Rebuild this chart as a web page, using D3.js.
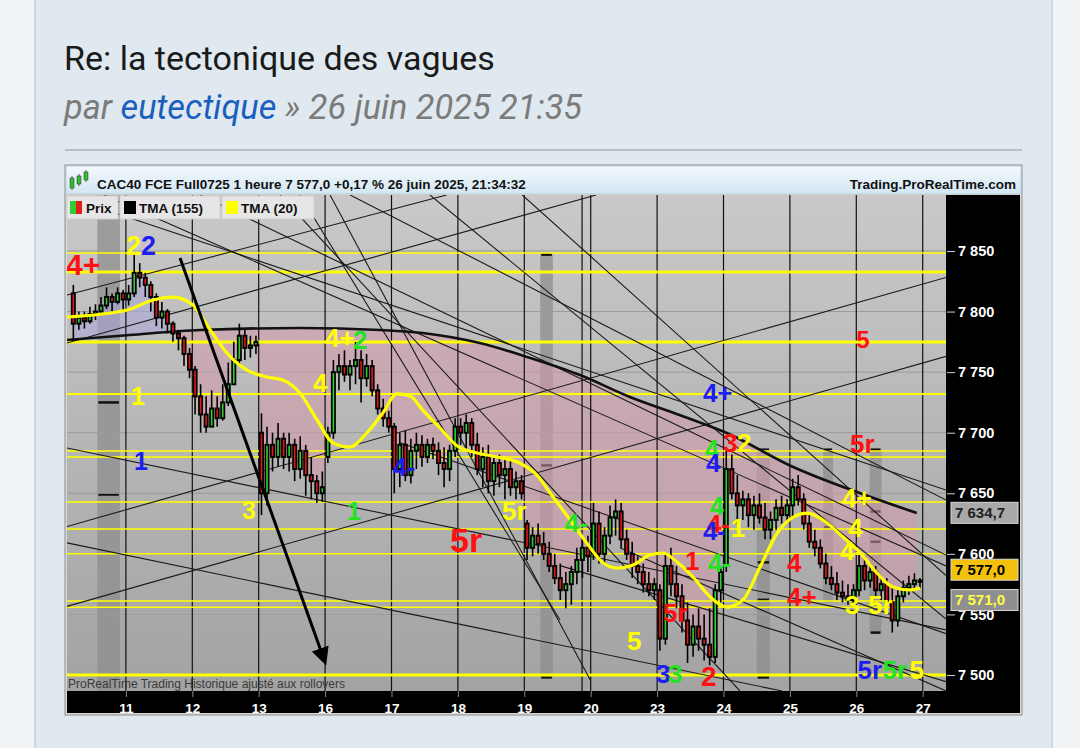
<!DOCTYPE html>
<html><head><meta charset="utf-8">
<script src="https://cdn.jsdelivr.net/npm/d3@7"></script>
<style>
body{margin:0;background:#f1f4f6;}
svg{display:block;}
</style></head>
<body><svg id="c" width="1080" height="748"></svg>
<script>
// ---------------- DATA ----------------
const dayLabels = ["11","12","13","16","17","18","19","20","23","24","25","26","27"];
const yTicks = [7500,7550,7600,7650,7700,7750,7800,7850];
// hourly candles per session [open, high, low, close]
const session10 = [[7815,7822,7776,7790],[7790,7800,7785,7795],[7795,7800,7786,7792],[7792,7804,7790,7798],[7798,7806,7793,7800],[7800,7812,7797,7805],[7805,7820,7802,7812],[7812,7815,7800,7808],[7808,7820,7806,7815],[7815,7818,7800,7810]];
const session11 = [[7810,7822,7805,7815],[7815,7847,7812,7832],[7832,7840,7820,7828],[7828,7832,7812,7822],[7822,7825,7800,7812],[7812,7815,7788,7795],[7795,7808,7786,7800],[7800,7802,7782,7790],[7790,7792,7775,7782],[7782,7785,7768,7778],[7778,7780,7755,7765],[7765,7770,7745,7752]];
const session12 = [[7752,7755,7715,7730],[7730,7740,7700,7715],[7715,7730,7700,7705],[7705,7735,7705,7720],[7720,7730,7705,7712],[7712,7740,7710,7725],[7725,7758,7722,7740],[7740,7775,7740,7760],[7760,7790,7755,7780],[7780,7785,7760,7770],[7770,7780,7762,7772],[7772,7780,7765,7775]];
const session13 = [[7700,7716,7632,7650],[7650,7705,7640,7690],[7690,7700,7668,7680],[7680,7708,7672,7695],[7695,7700,7670,7680],[7680,7700,7668,7690],[7690,7695,7660,7670],[7670,7697,7662,7685],[7685,7690,7648,7665],[7665,7680,7645,7660],[7660,7665,7642,7650],[7650,7668,7643,7655]];
const session16 = [[7680,7705,7675,7700],[7700,7760,7695,7750],[7750,7765,7735,7755],[7755,7768,7742,7748],[7748,7760,7735,7755],[7755,7775,7740,7760],[7760,7768,7725,7745],[7745,7765,7738,7755],[7755,7760,7730,7735],[7735,7740,7715,7720],[7720,7728,7705,7712],[7712,7718,7700,7705]];
const session17 = [[7705,7708,7650,7670],[7670,7700,7655,7690],[7690,7702,7660,7665],[7665,7695,7658,7685],[7685,7700,7670,7690],[7690,7698,7672,7680],[7680,7695,7675,7690],[7690,7696,7678,7685],[7685,7692,7665,7675],[7675,7688,7655,7670],[7670,7690,7660,7685],[7685,7712,7680,7705]];
const session18 = [[7705,7712,7690,7700],[7700,7715,7685,7708],[7708,7712,7680,7690],[7690,7700,7665,7670],[7670,7688,7655,7680],[7680,7690,7650,7660],[7660,7680,7648,7675],[7675,7682,7655,7665],[7665,7680,7645,7670],[7670,7678,7648,7655],[7655,7668,7645,7660],[7660,7665,7645,7650]];
const session19 = [[7625,7628,7595,7605],[7605,7622,7598,7615],[7615,7625,7600,7608],[7608,7618,7595,7600],[7600,7610,7585,7590],[7590,7600,7575,7580],[7580,7592,7562,7570],[7570,7585,7555,7575],[7575,7590,7558,7585],[7585,7605,7575,7595],[7595,7612,7580,7605],[7605,7615,7585,7598]];
const session20 = [[7600,7642,7595,7625],[7625,7635,7592,7600],[7600,7622,7592,7615],[7615,7640,7608,7630],[7630,7645,7615,7635],[7635,7642,7605,7612],[7612,7620,7595,7600],[7600,7610,7580,7590],[7590,7598,7575,7585],[7585,7592,7568,7575],[7575,7585,7565,7570],[7570,7580,7562,7575]];
const session23 = [[7570,7575,7520,7530],[7530,7600,7525,7590],[7590,7605,7565,7575],[7575,7590,7555,7565],[7565,7575,7535,7545],[7545,7560,7510,7525],[7525,7550,7515,7540],[7540,7555,7520,7530],[7530,7550,7512,7525],[7525,7555,7508,7515],[7515,7575,7510,7570],[7570,7590,7560,7585]];
const session24 = [[7590,7685,7585,7670],[7670,7682,7645,7650],[7650,7665,7625,7640],[7640,7652,7628,7645],[7645,7650,7622,7632],[7632,7648,7620,7640],[7640,7650,7625,7630],[7630,7642,7612,7620],[7620,7635,7612,7628],[7628,7645,7620,7638],[7638,7648,7625,7632],[7632,7645,7625,7640]];
const session25 = [[7640,7662,7630,7655],[7655,7665,7640,7645],[7645,7650,7620,7625],[7625,7632,7605,7610],[7610,7620,7598,7605],[7605,7612,7588,7592],[7592,7600,7575,7580],[7580,7590,7570,7575],[7575,7585,7562,7568],[7568,7578,7560,7565],[7565,7575,7558,7562],[7562,7575,7558,7570]];
const session26 = [[7570,7600,7565,7590],[7590,7598,7570,7578],[7578,7592,7572,7585],[7585,7590,7565,7570],[7570,7582,7562,7575],[7575,7580,7555,7560],[7560,7572,7535,7545],[7545,7570,7540,7565],[7565,7578,7560,7572],[7572,7582,7566,7575],[7575,7584,7570,7578],[7578,7580,7572,7577]];
const sessions = [session10,session11,session12,session13,session16,session17,session18,session19,session20,session23,session24,session25,session26];
// TMA (155) [session position, value]
const tma155 = [[0.11,7776.5],[1.06,7780.7],[2.12,7784.8],[3.62,7786.4],[4.83,7784.8],[5.47,7782.3],[6.33,7774],[7.09,7761.7],[7.84,7747.6],[8.59,7729.5],[9.34,7714.6],[10.05,7699.8],[11.05,7671.7],[12.05,7650.2],[12.91,7633.7]];
// TMA (20)
const tma20 = [[0.11,7795.5],[1.02,7801.3],[1.41,7809.6],[1.71,7812],[2.01,7805.4],[2.27,7784.8],[2.52,7765.8],[2.82,7751.8],[3.12,7746],[3.36,7743.5],[3.62,7732.8],[3.88,7710.5],[4.12,7691.5],[4.37,7688.2],[4.63,7699.8],[4.87,7716.3],[5.08,7732],[5.28,7730.3],[5.47,7718.7],[5.73,7703.9],[5.99,7689],[6.29,7683.3],[6.59,7680],[6.93,7675],[7.19,7665],[7.39,7650.2],[7.69,7628],[7.94,7609],[8.19,7592.4],[8.40,7588.3],[8.64,7590.8],[8.89,7599],[9.09,7600.7],[9.30,7593.3],[9.54,7580.9],[9.80,7564.4],[10.05,7556.1],[10.29,7561.9],[10.55,7589.1],[10.81,7617.2],[11.05,7630.4],[11.26,7633.7],[11.56,7625.5],[11.80,7613.9],[12.06,7600.7],[12.31,7584.2],[12.55,7572.6],[12.81,7570.2],[12.96,7571.8]];
// horizontal yellow levels [value, weight]
const levels = [[7848.3,1.5],[7832.7,3],[7774.9,3],[7732,2],[7685,1.5],[7680,1.5],[7642.8,1.5],[7620.5,1.5],[7600,1.5],[7561,1.5],[7556,1.5],[7500,3]];
// trend lines [pos1, val1, pos2, val2]
const trendLines = [
 [0.113,7813.7,5.83,7896.2],[0.113,7774.1,8.08,7896.2],[0.113,7622.6,13.352,7828.2],[0.113,7556.6,13.352,7763.0],
 [0.113,7687.4,13.352,7537.2],[0.113,7609.1,10.881,7486.8],[0.113,7894.6,13.352,7652.7],[0.670,7896.2,13.352,7590.0],
 [3.623,7896.2,7.538,7545.4],[4.075,7896.2,7.994,7495.9],[3.322,7896.2,10.248,7486.8],[5.580,7896.2,13.352,7546.2],
 [2.116,7896.2,13.352,7599.0],[4.377,7896.2,13.352,7644.4],
 [5.13,7691.7,13.352,7534.1],[7.54,7590.3,13.352,7494.5],[6.97,7896.2,13.352,7582.0],[8.44,7605.0,13.352,7486.8]
];
const arrowLine = [1.815,7844.2,3.998,7510.7];
// grey range bands [pos0,pos1,top,bottom,[marks]]
const bands = [[0.57,0.91,7896,7487,[7725,7649]],[7.24,7.43,7847,7498,[7847,7673,7498]],[10.5,10.7,7686,7498,[7686,7593,7562,7498]],[11.5,11.65,7686,7560,[7686,7643,7622]],[12.2,12.38,7686,7535,[7686,7635,7610,7535]]];
const extraVLines = [7.87];
// wave labels [text, colour, pos, value, size]
const R="#ff1111",B="#1e1ef0",Y="#ffff00",G="#22e322";
const waveLabels = [
 ["4+",R,0.098,7830.2,30],["2",Y,1.001,7846.7,27],["2",B,1.227,7846.7,27],["1",Y,1.077,7722.9,25],["1",B,1.122,7669.2,25],
 ["4",Y,3.818,7733.6,26],["4+",Y,3.999,7770.8,26],["2",G,4.42,7769.1,26],["3",Y,2.748,7628.8,25],["1",G,4.33,7627.9,25],
 ["4-",B,5.023,7664.3,25],["5r",Y,6.664,7627.9,26],["5r",R,5.881,7601.5,34],["4-",G,7.611,7618.0,26],["5",Y,8.545,7520.6,26],
 ["3",B,8.982,7493.4,26],["3",G,9.163,7493.4,26],["5r",R,9.087,7543.7,26],["1",R,9.419,7586.6,26],["2",R,9.66,7490.9,28],
 ["4+",B,9.69,7725.4,26],["4",G,9.72,7679.1,25],["3",R,9.992,7684.1,26],["2",Y,10.203,7684.1,26],["4",B,9.735,7667.6,26],
 ["4",G,9.795,7632.1,25],["4-",R,9.75,7617.2,26],["4-",B,9.69,7611.4,26],["1",Y,10.111,7613.9,26],["4-",G,9.765,7585.0,26],
 ["4",R,10.956,7585.0,26],["4+",R,10.956,7556.9,26],["3",Y,11.83,7550.3,26],["5r",Y,12.176,7550.3,26],["5",R,12.0,7770.0,24],
 ["5r",R,11.905,7683.3,26],["4+",Y,11.786,7638.7,26],["4",Y,11.877,7613.9,26],["4-",Y,11.756,7594.9,26],
 ["5r",B,12.018,7496.7,26],["5r",G,12.395,7496.7,26],["5",Y,12.801,7496.7,26]
];
// last-value boxes [text, value, fill, text colour, vertical shift]
const priceBoxes = [["7 634,7",7634.7,"#a9a9a9","#222",1],["7 577,0",7577.0,"#f4c20d","#000",-12],["7 571,0",7571.0,"#8f8f8f","#ffff44",11]];

// ---------------- DRAW ----------------
const svg = d3.select("#c");
const F = "'Liberation Sans', Arial, sans-serif";
const P = {l:67, r:946, t:195, b:691};
const x = d3.scaleLinear().domain([0,13]).range([59.5,922.7]);
const y = d3.scaleLinear().domain([7500,7850]).range([675,251]);

// page
svg.append("rect").attr("width",1080).attr("height",748).attr("fill","#f1f4f6");
svg.append("rect").attr("x",35).attr("y",-2).attr("width",1017).attr("height",760).attr("fill","#dfe9ef").attr("stroke","#c3d0d8").attr("stroke-width",1.5);
svg.append("text").attr("x",64).attr("y",70).attr("font-family","Roboto, sans-serif").attr("font-size",34).attr("fill","#1a1a1a").text("Re: la tectonique des vagues");
const sub = svg.append("text").attr("x",64).attr("y",119).attr("font-family","Roboto, sans-serif").attr("font-size",34.3).attr("font-style","italic").attr("fill","#7b7b7b");
sub.append("tspan").text("par ");
sub.append("tspan").attr("fill","#1a5fbf").text("eutectique");
sub.append("tspan").text(" » 26 juin 2025 21:35");
svg.append("line").attr("x1",65).attr("x2",1022).attr("y1",150).attr("y2",150).attr("stroke","#b4c0c8").attr("stroke-width",2);

// chart frame
const defs = svg.append("defs");
const hg = defs.append("linearGradient").attr("id","hg").attr("x1",0).attr("x2",0).attr("y1",0).attr("y2",1);
hg.append("stop").attr("offset",0).attr("stop-color","#f3f9fd");
hg.append("stop").attr("offset",1).attr("stop-color","#d3e6f2");
const pg = defs.append("linearGradient").attr("id","pg").attr("x1",0).attr("x2",0).attr("y1",0).attr("y2",1);
pg.append("stop").attr("offset",0).attr("stop-color","#c9c9c9");
pg.append("stop").attr("offset",1).attr("stop-color","#a3a3a3");
svg.append("rect").attr("x",65).attr("y",165).attr("width",957).attr("height",550).attr("fill","#d8d8d8").attr("stroke","#8c8c8c");
svg.append("rect").attr("x",66).attr("y",166).attr("width",955).attr("height",28).attr("fill","url(#hg)").attr("stroke","#b9cbd6");
// icon
[[72,178,10,"#2fbf2f"],[79,176,8,"#2fbf2f"],[86,172,8,"#2fbf2f"]].forEach(d=>{
  svg.append("line").attr("x1",d[0]).attr("x2",d[0]).attr("y1",d[1]-2).attr("y2",d[1]+d[2]+2).attr("stroke","#555");
  svg.append("rect").attr("x",d[0]-2).attr("y",d[1]).attr("width",4).attr("height",d[2]).attr("fill",d[3]).attr("stroke","#333").attr("stroke-width",0.5);
});
svg.append("text").attr("x",97).attr("y",189).attr("font-family",F).attr("font-weight","bold").attr("font-size",13.5).attr("fill","#111").text("CAC40 FCE Full0725 1 heure 7 577,0 +0,17 % 26 juin 2025, 21:34:32");
svg.append("text").attr("x",1016).attr("y",189).attr("text-anchor","end").attr("font-family",F).attr("font-weight","bold").attr("font-size",13.5).attr("fill","#111").text("Trading.ProRealTime.com");

// plot background
svg.append("rect").attr("x",P.l).attr("y",P.t).attr("width",P.r-P.l).attr("height",P.b-P.t).attr("fill","url(#pg)");
defs.append("clipPath").attr("id","pc").append("rect").attr("x",P.l).attr("y",P.t).attr("width",P.r-P.l).attr("height",P.b-P.t);
const g = svg.append("g").attr("clip-path","url(#pc)");

// bands
bands.forEach(b=>{
  g.append("rect").attr("x",x(b[0])).attr("width",x(b[1])-x(b[0])).attr("y",y(b[2])).attr("height",y(b[3])-y(b[2])).attr("fill","#8e8e8e").attr("opacity",0.75);
  b[4].forEach(m=>g.append("line").attr("x1",x(b[0])+1).attr("x2",x(b[1])-1).attr("y1",y(m)).attr("y2",y(m)).attr("stroke","#111").attr("stroke-width",2.5));
});
// grid
yTicks.forEach(v=>g.append("line").attr("x1",P.l).attr("x2",P.r).attr("y1",y(v)).attr("y2",y(v)).attr("stroke","#9b9b9b").attr("stroke-width",1));

// bars
const bars = [];
sessions.forEach((s,d)=>{
  const off = 12 - s.length;
  s.forEach((c,j)=>bars.push({p:d+(j+off+0.5)/12,o:c[0],h:c[1],l:c[2],c:c[3]}));
});
const tmaLine = d3.line().x(d=>x(d[0])).y(d=>y(d[1])).curve(d3.curveMonotoneX);
// fills between price and TMA155
const cpBelow = defs.append("clipPath").attr("id","below");
cpBelow.append("path").attr("d",d3.area().x(d=>x(d[0])).y0(d=>y(d[1])).y1(P.b).curve(d3.curveMonotoneX)(tma155));
const cpAbove = defs.append("clipPath").attr("id","above");
cpAbove.append("path").attr("d",d3.area().x(d=>x(d[0])).y0(P.t).y1(d=>y(d[1])).curve(d3.curveMonotoneX)(tma155));
g.append("path").attr("clip-path","url(#below)").attr("fill","#d49aaa").attr("opacity",0.55)
  .attr("d",d3.area().x(d=>x(d.p)).y0(P.t).y1(d=>y(d.c))(bars));
g.append("path").attr("clip-path","url(#above)").attr("fill","#a9a6d8").attr("opacity",0.55)
  .attr("d",d3.area().x(d=>x(d.p)).y0(d=>y(d.c)).y1(P.b)(bars));

// vertical session lines
d3.range(1,14).concat(extraVLines).forEach(p=>g.append("line").attr("x1",x(p)).attr("x2",x(p)).attr("y1",P.t).attr("y2",P.b).attr("stroke","#111").attr("stroke-width",1.2));

// yellow levels
levels.forEach(l=>g.append("line").attr("x1",P.l).attr("x2",P.r).attr("y1",y(l[0])).attr("y2",y(l[0])).attr("stroke","#ffff00").attr("stroke-width",l[1]));

// trend lines
trendLines.forEach(t=>g.append("line").attr("x1",x(t[0])).attr("y1",y(t[1])).attr("x2",x(t[2])).attr("y2",y(t[3])).attr("stroke","#1a1a1a").attr("stroke-width",1.1));

// TMA155
g.append("path").attr("d",tmaLine(tma155)).attr("fill","none").attr("stroke","#111").attr("stroke-width",2.6);

// candles
const bw = 5;
bars.forEach(b=>{
  const cx = x(b.p);
  g.append("line").attr("x1",cx).attr("x2",cx).attr("y1",y(b.h)).attr("y2",y(b.l)).attr("stroke","#000").attr("stroke-width",1.6);
  const top = y(Math.max(b.o,b.c)), bot = y(Math.min(b.o,b.c));
  g.append("rect").attr("x",cx-bw/2).attr("width",bw).attr("y",top-1).attr("height",Math.max(2,bot-top+2)).attr("fill","#000");
  if (bot-top>2) g.append("rect").attr("x",cx-0.8).attr("width",1.6).attr("y",top+1).attr("height",bot-top-2).attr("fill",b.c>=b.o?"#2fd02f":"#e01818");
});

// TMA20
g.append("path").attr("d",d3.line().x(d=>x(d[0])).y(d=>y(d[1])).curve(d3.curveMonotoneX)(tma20)).attr("fill","none").attr("stroke","#ffff00").attr("stroke-width",3.2);

// arrow
defs.append("marker").attr("id","ah").attr("viewBox","0 0 10 10").attr("refX",8).attr("refY",5).attr("markerWidth",6).attr("markerHeight",6).attr("orient","auto")
  .append("path").attr("d","M0,0 L10,5 L0,10 z").attr("fill","#000");
g.append("line").attr("x1",x(arrowLine[0])).attr("y1",y(arrowLine[1])).attr("x2",x(arrowLine[2])).attr("y2",y(arrowLine[3])).attr("stroke","#000").attr("stroke-width",3).attr("marker-end","url(#ah)");

// wave labels
waveLabels.forEach(w=>g.append("text").attr("x",x(w[2])).attr("y",y(w[3])).attr("font-family",F).attr("font-weight","bold").attr("font-size",w[4]).attr("fill",w[1]).text(w[0]));

// footer text in plot
svg.append("text").attr("x",68).attr("y",688).attr("font-family",F).attr("font-size",12).attr("fill","#3a3a3a").text("ProRealTime Trading  Historique ajusté aux rollovers");

// legend
const leg = [["Prix",67,51,"prix"],["TMA (155)",120,100,"#000"],["TMA (20)",222,92,"#ffff00"]];
leg.forEach(l=>{
  svg.append("rect").attr("x",l[1]).attr("y",196).attr("width",l[2]).attr("height",23).attr("fill","#e6e6e6").attr("stroke","#cfcfcf");
  if (l[3]==="prix"){
    svg.append("rect").attr("x",l[1]+3).attr("y",201).attr("width",6).attr("height",13).attr("fill","#33cc33");
    svg.append("rect").attr("x",l[1]+9).attr("y",201).attr("width",6).attr("height",13).attr("fill","#e51c1c");
  } else {
    svg.append("rect").attr("x",l[1]+4).attr("y",201).attr("width",12).attr("height",13).attr("fill",l[3]);
  }
  svg.append("text").attr("x",l[1]+19).attr("y",213).attr("font-family",F).attr("font-weight","bold").attr("font-size",13.5).attr("fill","#111").text(l[0]);
});

// axes backgrounds
svg.append("rect").attr("x",P.r).attr("y",P.t).attr("width",1020-P.r).attr("height",713-P.t).attr("fill","#000");
svg.append("rect").attr("x",P.l).attr("y",P.b).attr("width",1020-P.l).attr("height",713-P.b).attr("fill","#000");
const loc = d3.formatLocale({decimal:",",thousands:" ",grouping:[3],currency:["",""]});
const yAxis = d3.axisRight(y).tickValues(yTicks).tickFormat(loc.format(",")).tickSize(8).tickPadding(3);
const ya = svg.append("g").attr("transform",`translate(${P.r+1},0)`).call(yAxis);
ya.select(".domain").remove();
ya.selectAll("line").attr("stroke","#cfcfcf");
ya.selectAll("text").attr("fill","#fff").attr("font-family",F).attr("font-weight","bold").attr("font-size",14.5);
const xAxis = d3.axisBottom(x).tickValues(d3.range(1,14)).tickFormat((d,i)=>dayLabels[i]).tickSize(6).tickPadding(6);
const xa = svg.append("g").attr("transform",`translate(0,${P.b})`).call(xAxis);
xa.select(".domain").remove();
xa.selectAll("line").attr("stroke","#888");
xa.selectAll("text").attr("fill","#fff").attr("font-family",F).attr("font-weight","bold").attr("font-size",13.5);
// price boxes
priceBoxes.forEach(pb=>{
  const cy = y(pb[1]) + pb[4];
  svg.append("rect").attr("x",951).attr("y",cy-10.5).attr("width",67).attr("height",21).attr("fill",pb[2]).attr("stroke","#d8d8d8").attr("stroke-width",1);
  svg.append("text").attr("x",955).attr("y",cy+5.5).attr("font-family",F).attr("font-weight","bold").attr("font-size",15).attr("fill",pb[3]).text(pb[0]);
});
</script></body></html>
